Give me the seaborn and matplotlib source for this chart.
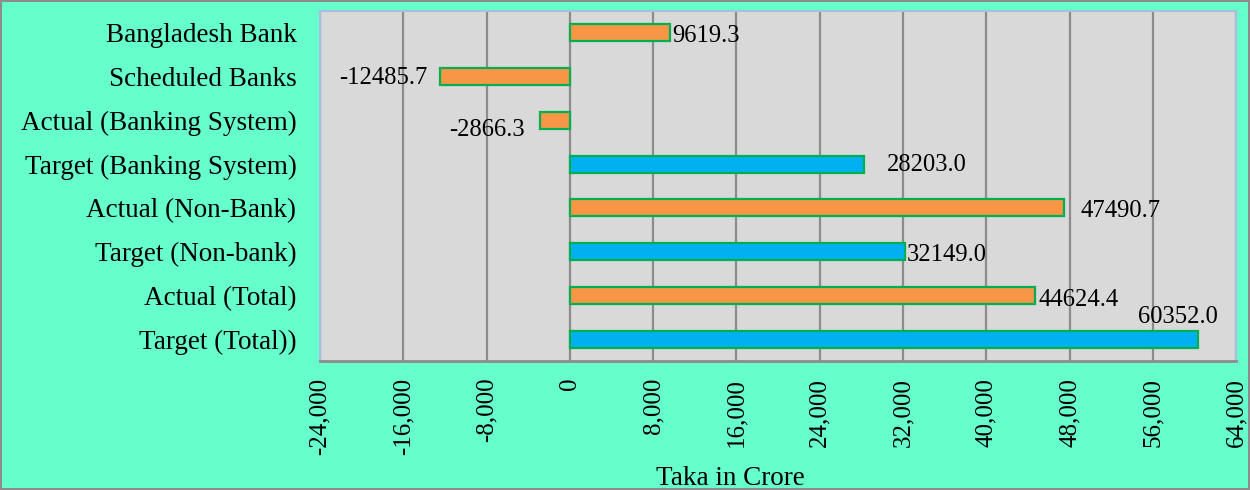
import matplotlib
matplotlib.use("Agg")
import matplotlib.pyplot as plt
import seaborn as sns
import pandas as pd

categories = ["Bangladesh Bank", "Scheduled Banks", "Actual (Banking System)",
              "Target (Banking System)", "Actual (Non-Bank)", "Target (Non-bank)",
              "Actual (Total)", "Target (Total))"]
values = [9619.3, -12485.7, -2866.3, 28203.0, 47490.7, 32149.0, 44624.4, 60352.0]
kinds = ["Actual", "Actual", "Actual", "Target", "Actual", "Target", "Actual", "Target"]
label_texts = ["9619.3", "-12485.7", "-2866.3", "28203.0", "47490.7", "32149.0", "44624.4", "60352.0"]
xticks = list(range(-24000, 64001, 8000))

# label placement style (pixel offsets, alignment)
label_style = [(2, -3, "left"), (-12, -2, "right"), (-15, -10, "right"), (23, -1, "left"),
               (16, -3, "left"), (2, -3, "left"), (4, -5, "left"), (20, 22, "right")]

sns.set_style("white")
plt.rcParams["font.family"] = ["Liberation Serif", "DejaVu Serif"]
plt.rcParams["text.color"] = "black"
plt.rcParams["xtick.color"] = "black"
plt.rcParams["ytick.color"] = "black"
plt.rcParams["axes.labelcolor"] = "black"

df = pd.DataFrame({"cat": categories, "val": values, "kind": kinds})

fig = plt.figure(figsize=(12.5, 4.9), dpi=100)
fig.patch.set_facecolor("#66FFCC")
fig.patch.set_edgecolor("#8C8C8C")
fig.patch.set_linewidth(1.5)
ax = fig.add_axes([0.256, 0.263, 0.733, 0.715])
ax.set_facecolor("#D9D9D9")

sns.barplot(data=df, x="val", y="cat", hue="kind", orient="h", dodge=False,
            palette={"Actual": "#F79646", "Target": "#00B0F0"}, saturation=1, width=0.39,
            edgecolor="#00B050", linewidth=1.6, legend=False, ax=ax, zorder=3)

ax.set_xlim(-24000, 64000)
ax.set_ylim(7.5, -0.5)
ax.set_xticks(xticks)
ax.set_xticklabels([f"{t:,}" for t in xticks], rotation=90, fontsize=18)
ax.tick_params(axis="y", labelsize=19.5, length=0, pad=17)
ax.tick_params(axis="x", length=0, pad=12)
ax.grid(axis="x", color="#8C8C8C", linewidth=1.6, zorder=0)
ax.set_axisbelow(True)
ax.set_ylabel("")
ax.set_xlabel("Taka in Crore", fontsize=19.5, labelpad=8)
ax.xaxis.label.set_x(0.448)

for s in ["left", "top", "right"]:
    ax.spines[s].set_color("#A9BDE3")
    ax.spines[s].set_linewidth(1.5)
ax.spines["bottom"].set_color("#8C8C8C")
ax.spines["bottom"].set_linewidth(2)

for i, (v, t, (dx, dy, ha)) in enumerate(zip(values, label_texts, label_style)):
    ax.annotate(t, xy=(v, i), xytext=(dx, dy), textcoords="offset pixels",
                ha=ha, va="center", fontsize=17.7, color="black", zorder=5)

fig.savefig("out.png", dpi=100, facecolor=fig.get_facecolor(), edgecolor=fig.get_edgecolor())
